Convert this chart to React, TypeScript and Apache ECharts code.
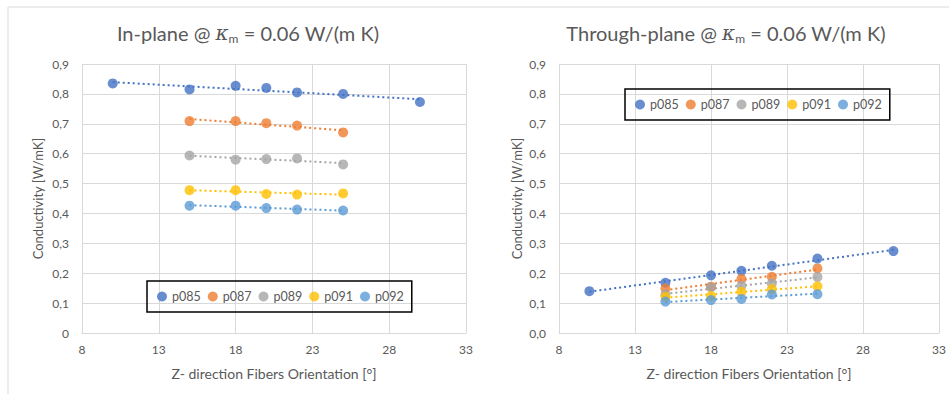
import React, { useEffect, useRef } from "react";
import * as echarts from "echarts";

const seriesNames = ["p085", "p087", "p089", "p091", "p092"];
const colors = ["#4472C4", "#ED7D31", "#A5A5A5", "#FFC000", "#5B9BD5"];

const xP085 = [10, 15, 18, 20, 22, 25, 30];
const xOther = [15, 18, 20, 22, 25];

// In-plane conductivity [W/mK]
const inP085 = [0.835, 0.815, 0.827, 0.82, 0.805, 0.8, 0.773];
const inP087 = [0.709, 0.709, 0.702, 0.694, 0.671];
const inP089 = [0.594, 0.58, 0.582, 0.584, 0.564];
const inP091 = [0.478, 0.478, 0.465, 0.463, 0.467];
const inP092 = [0.426, 0.426, 0.418, 0.413, 0.41];

// Through-plane conductivity [W/mK]
const thP085 = [0.14, 0.168, 0.193, 0.208, 0.225, 0.249, 0.274];
const thP087 = [0.149, 0.155, 0.181, 0.188, 0.216];
const thP089 = [0.129, 0.153, 0.158, 0.166, 0.187];
const thP091 = [0.121, 0.124, 0.138, 0.147, 0.156];
const thP092 = [0.105, 0.11, 0.114, 0.129, 0.13];

const xTicks = { min: 8, max: 33, interval: 5 };
const yTicks = { min: 0, max: 0.9, interval: 0.1 };

const xTitle = "Z- direction Fibers Orientation [°]";
const yTitle = "Conductivity [W/mK]";

const FONT = "Lato, 'Open Sans', sans-serif";
const TXT = "#595959";
const GRID = "#D9D9D9";

function linReg(xs: number[], ys: number[]) {
  const n = xs.length;
  const mx = xs.reduce((a, b) => a + b, 0) / n;
  const my = ys.reduce((a, b) => a + b, 0) / n;
  let sxy = 0, sxx = 0;
  for (let i = 0; i < n; i++) {
    sxy += (xs[i] - mx) * (ys[i] - my);
    sxx += (xs[i] - mx) * (xs[i] - mx);
  }
  const b = sxy / sxx;
  const a = my - b * mx;
  const x0 = Math.min(...xs), x1 = Math.max(...xs);
  return [[x0, a + b * x0], [x1, a + b * x1]];
}

function buildSeries(groups: number[][], gi: number) {
  const out: any[] = [];
  groups.forEach((ys, i) => {
    const xs = i === 0 ? xP085 : xOther;
    out.push({
      type: "line",
      name: seriesNames[i] + " trend " + gi,
      xAxisIndex: gi,
      yAxisIndex: gi,
      data: linReg(xs, ys),
      symbol: "none",
      silent: true,
      lineStyle: { color: colors[i], width: 2, type: [2, 3] },
      z: 2,
    });
  });
  groups.forEach((ys, i) => {
    const xs = i === 0 ? xP085 : xOther;
    out.push({
      type: "scatter",
      name: seriesNames[i],
      xAxisIndex: gi,
      yAxisIndex: gi,
      data: xs.map((x, k) => [x, ys[k]]),
      symbol: "circle",
      symbolSize: 10,
      itemStyle: { color: colors[i] },
      z: 3,
    });
  });
  return out;
}

function xAxisCfg(gi: number) {
  return {
    type: "value",
    gridIndex: gi,
    min: xTicks.min,
    max: xTicks.max,
    interval: xTicks.interval,
    name: xTitle,
    nameLocation: "middle",
    nameGap: 33,
    nameTextStyle: { color: TXT, fontSize: 14, fontFamily: FONT },
    axisLine: { show: true, lineStyle: { color: GRID, width: 1 } },
    axisTick: { show: false },
    axisLabel: { color: TXT, fontSize: 12, fontFamily: FONT, margin: 10 },
    splitLine: { show: true, lineStyle: { color: GRID, width: 1 } },
  };
}

function yAxisCfg(gi: number, zeroLabel: string, gap: number) {
  return {
    type: "value",
    gridIndex: gi,
    min: yTicks.min,
    max: yTicks.max,
    interval: yTicks.interval,
    name: yTitle,
    nameLocation: "middle",
    nameGap: gap,
    nameTextStyle: { color: TXT, fontSize: 13, fontFamily: FONT },
    axisLine: { show: false },
    axisTick: { show: false },
    axisLabel: {
      color: TXT,
      fontSize: 12,
      fontFamily: FONT,
      margin: 13,
      formatter: (v: number) =>
        Math.abs(v) < 1e-9 ? zeroLabel : v.toFixed(1).replace(".", ","),
    },
    splitLine: { show: true, lineStyle: { color: GRID, width: 1 } },
  };
}

function titleGraphic(x: number, prefix: string) {
  return {
    type: "text",
    x,
    y: 33,
    style: {
      text: `{a|${prefix} @ }{k|κ}{s|m}{a| = 0.06 W/(m K)}`,
      align: "center",
      verticalAlign: "middle",
      rich: {
        a: { fontSize: 20, fontFamily: FONT, fill: TXT, color: TXT, lineHeight: 23 },
        k: { fontSize: 20, fontFamily: "'DejaVu Serif', serif", fontStyle: "italic", fill: TXT, color: TXT, lineHeight: 23 },
        s: { fontSize: 12, fontFamily: FONT, fill: TXT, color: TXT, verticalAlign: "bottom", lineHeight: 14 },
      },
    },
  };
}

export default function App() {
  const ref = useRef<HTMLDivElement>(null);
  useEffect(() => {
    if (!ref.current) return;
    const chart = echarts.init(ref.current, undefined, { renderer: "svg" });
    const legendBase = {
      data: seriesNames,
      icon: "circle",
      itemWidth: 10,
      itemHeight: 10,
      itemGap: 7,
      borderColor: "#000",
      borderWidth: 1.5,
      borderRadius: 0,
      padding: [9, 8, 9, 10],
      textStyle: { color: TXT, fontSize: 12.5, fontFamily: FONT },
      selectedMode: false,
    };
    chart.setOption({
      animation: false,
      backgroundColor: "#fff",
      grid: [
        { left: 82, top: 64, width: 384, height: 269, containLabel: false },
        { left: 559, top: 64, width: 383, height: 269, containLabel: false },
      ],
      xAxis: [xAxisCfg(0), xAxisCfg(1)],
      yAxis: [yAxisCfg(0, "0", 38), yAxisCfg(1, "0,0", 36)],
      legend: [
        { ...legendBase, left: 147, top: 281 },
        { ...legendBase, left: 625, top: 89 },
      ],
      graphic: [
        { type: "line", shape: { x1: 8, y1: 7, x2: 949, y2: 7 }, style: { stroke: GRID, lineWidth: 1 } },
        { type: "line", shape: { x1: 8, y1: 7, x2: 8, y2: 394 }, style: { stroke: GRID, lineWidth: 1 } },
        titleGraphic(248, "In-plane"),
        titleGraphic(726, "Through-plane"),
      ],
      series: [
        ...buildSeries([inP085, inP087, inP089, inP091, inP092], 0),
        ...buildSeries([thP085, thP087, thP089, thP091, thP092], 1),
      ],
    });
    return () => chart.dispose();
  }, []);
  return (
    <div
      ref={ref}
      style={{ position: "absolute", left: 0, top: 0, width: 949, height: 394 }}
    />
  );
}
